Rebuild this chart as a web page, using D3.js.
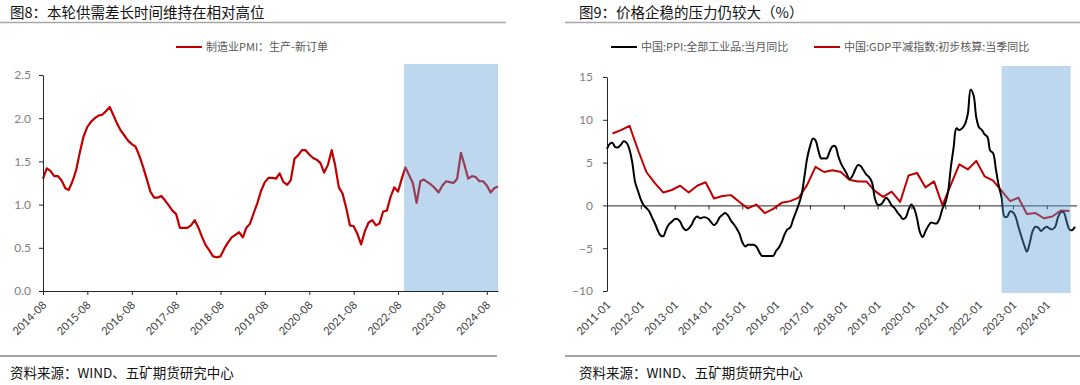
<!DOCTYPE html>
<html>
<head>
<meta charset="utf-8">
<script src="https://cdn.jsdelivr.net/npm/d3@7"></script>
<style>
  body { margin: 0; background: #fff; }
  svg text { font-family: "Noto Sans CJK SC", "Noto Sans", sans-serif; }
  .tick text { font-family: Lato, "Open Sans", sans-serif; }
</style>
</head>
<body>
<div id="chart"></div>
<script>
// ---- fig 8: PMI production minus new orders (monthly) ----
var pmiStart = "2014-08";
var pmiGap = [
  1.30, 1.42, 1.39, 1.33, 1.33, 1.28, 1.19, 1.17, 1.27, 1.40, 1.61, 1.79,
  1.90, 1.96, 2.00, 2.03, 2.04, 2.08, 2.13, 2.04, 1.94, 1.86, 1.80, 1.74,
  1.70, 1.67, 1.57, 1.44, 1.30, 1.15, 1.08, 1.08, 1.10, 1.05, 0.99, 0.93,
  0.89, 0.73, 0.73, 0.73, 0.76, 0.82, 0.73, 0.63, 0.53, 0.47, 0.40, 0.39,
  0.40, 0.49, 0.56, 0.62, 0.65, 0.68, 0.62, 0.73, 0.78, 0.90, 1.02, 1.16,
  1.26, 1.31, 1.31, 1.30, 1.36, 1.26, 1.23, 1.28, 1.53, 1.57, 1.63, 1.63,
  1.58, 1.54, 1.52, 1.48, 1.37, 1.46, 1.63, 1.46, 1.20, 1.13, 0.96, 0.76,
  0.75, 0.66, 0.54, 0.69, 0.79, 0.82, 0.76, 0.78, 0.92, 0.93, 1.09, 1.20,
  1.15, 1.30, 1.43, 1.34, 1.25, 1.02, 1.27, 1.29, 1.26, 1.23, 1.19, 1.14,
  1.22, 1.27, 1.26, 1.25, 1.30, 1.60, 1.45, 1.30, 1.33, 1.32, 1.27, 1.27,
  1.22, 1.14, 1.19, 1.21
];
var pmiYTicks = [0, 0.5, 1.0, 1.5, 2.0, 2.5];
var pmiXTicks = ["2014-08", "2015-08", "2016-08", "2017-08", "2018-08", "2019-08",
                 "2020-08", "2021-08", "2022-08", "2023-08", "2024-08"];
var pmiShade = ["2022-09-20", "2024-11-01"];

// ---- fig 9: PPI (monthly) and GDP deflator (quarterly) ----
var ppiStart = "2011-01";
var ppi = [
  6.6, 7.2, 7.3, 6.8, 6.8, 7.1, 7.5, 7.3, 6.5, 5.0, 2.7, 1.7,
  0.7, 0.0, -0.3, -0.7, -1.4, -2.1, -2.9, -3.5, -3.6, -2.8, -2.2, -1.9,
  -1.6, -1.6, -1.9, -2.6, -2.9, -2.7, -2.3, -1.6, -1.3, -1.5, -1.4, -1.4,
  -1.6, -2.0, -2.3, -2.0, -1.4, -1.1, -0.9, -1.2, -1.8, -2.2, -2.7, -3.3,
  -4.3, -4.8, -4.6, -4.6, -4.6, -4.8, -5.4, -5.9, -5.9, -5.9, -5.9, -5.9,
  -5.3, -4.9, -4.3, -3.4, -2.8, -2.6, -1.7, -0.8, 0.1, 1.2, 3.3, 5.5,
  6.9, 7.8, 7.6, 6.4, 5.5, 5.5, 5.5, 6.3, 6.9, 6.9, 5.8, 4.9,
  4.3, 3.7, 3.1, 3.4, 4.1, 4.7, 4.6, 4.1, 3.6, 3.3, 2.7, 0.9,
  0.1, 0.1, 0.4, 0.9, 0.6, 0.0, -0.3, -0.8, -1.2, -1.6, -1.4, -0.5,
  0.1, -0.4, -1.5, -3.1, -3.7, -3.0, -2.4, -2.0, -2.1, -2.1, -1.5, -0.4,
  0.3, 1.7, 4.4, 6.8, 9.0, 8.8, 9.0, 9.5, 10.7, 13.5, 12.9, 10.3,
  9.1, 8.8, 8.3, 8.0, 6.4, 6.1, 4.2, 2.3, 0.9, -1.3, -1.3, -0.7,
  -0.8, -1.4, -2.5, -3.6, -4.6, -5.4, -4.4, -3.0, -2.5, -2.6, -3.0, -2.7,
  -2.5, -2.7, -2.8, -2.5, -1.4, -0.8, -0.8, -1.8, -2.8, -2.9, -2.5
];
var gdpStart = "2011-03";
var gdpDeflator = [
  8.4, 8.8, 9.3, 6.5,
  3.9, 2.6, 1.5, 1.8,
  2.3, 1.5, 2.3, 2.7,
  0.8, 1.1, 1.2, 0.4,
  -0.35, 0.1, -0.9, -0.4,
  0.3, 0.5, 0.9, 2.4,
  4.5, 3.9, 4.1, 3.9,
  3.0, 2.8, 2.8, 1.7,
  1.0, 1.6, 0.4, 3.5,
  3.8, 2.1, 2.8, 0.0,
  2.4, 4.8, 4.2, 5.2,
  3.4, 2.9, 1.7, 0.5,
  0.9, -1.0, -0.9, -1.5,
  -1.3, -0.6, -0.65
];
var priceYTicks = [-10, -5, 0, 5, 10, 15];
var priceXTicks = ["2011-01", "2012-01", "2013-01", "2014-01", "2015-01", "2016-01", "2017-01",
                   "2018-01", "2019-01", "2020-01", "2021-01", "2022-01", "2023-01", "2024-01"];
var priceShade = ["2022-09-01", "2024-09-15"];

var parseMonth = d3.timeParse("%Y-%m"),
    parseDay = d3.timeParse("%Y-%m-%d");

var pmiMonths = pmiGap.map(function(d, i) { return d3.timeMonth.offset(parseMonth(pmiStart), i); });
var ppiMonths = ppi.map(function(d, i) { return d3.timeMonth.offset(parseMonth(ppiStart), i); });
var gdpMonths = gdpDeflator.map(function(d, i) { return d3.timeMonth.offset(parseMonth(gdpStart), i * 3); });

var svg = d3.select("#chart")
  .append("svg")
    .attr("width", 1080)
    .attr("height", 385)
    .style("background", "#fff");

function header(x0, x1, tx, title) {
  svg.append("text")
      .attr("x", tx)
      .attr("y", 18)
      .style("font-size", "14.5px")
      .style("fill", "#111")
      .text(title);
  svg.append("line")
      .attr("x1", x0).attr("x2", x1)
      .attr("y1", 22.5).attr("y2", 22.5)
      .attr("stroke", "#a6a6a6")
      .attr("stroke-width", 1.5);
}

function footer(x0, x1, tx) {
  svg.append("line")
      .attr("x1", x0).attr("x2", x1)
      .attr("y1", 356).attr("y2", 356)
      .attr("stroke", "#a6a6a6")
      .attr("stroke-width", 2);
  svg.append("text")
      .attr("x", tx)
      .attr("y", 378)
      .style("font-size", "13.5px")
      .style("fill", "#111")
      .text("资料来源：WIND、五矿期货研究中心");
}

function legendItem(x, y, color, label) {
  svg.append("line")
      .attr("x1", x).attr("x2", x + 26)
      .attr("y1", y).attr("y2", y)
      .attr("stroke", color)
      .attr("stroke-width", 2);
  svg.append("text")
      .attr("x", x + 30)
      .attr("y", y + 4)
      .style("font-size", "11px")
      .style("fill", "#595959")
      .text(label);
}

function styleAxis(g) {
  g.selectAll(".domain, .tick line").attr("stroke", "#262626");
  g.selectAll(".tick text").style("font-size", "12px").style("fill", "#7f7f7f");
}

function rotateLabels(g, dx, dy) {
  g.selectAll(".tick text")
      .attr("x", 0).attr("y", 0)
      .attr("dy", "0.35em")
      .attr("transform", "translate(" + dx + "," + dy + ") rotate(-45)")
      .style("text-anchor", "end")
      .style("font-size", "11px")
      .style("fill", "#404040");
}

// ================= left panel =================
header(0, 506, 10, "图8：本轮供需差长时间维持在相对高位");
legendItem(176, 47, "#c00000", "制造业PMI：生产-新订单");

var x1 = d3.scaleTime()
    .domain([pmiMonths[0], pmiMonths[pmiMonths.length - 1]])
    .range([43, 498]);
var y1 = d3.scaleLinear().domain([0, 2.5]).range([291, 75]);

svg.append("path")
    .datum(pmiGap)
    .attr("fill", "none")
    .attr("stroke", "#c00000")
    .attr("stroke-width", 2.2)
    .attr("stroke-linejoin", "round")
    .attr("d", d3.line()
        .x(function(d, i) { return x1(pmiMonths[i]); })
        .y(function(d) { return y1(d); }));

// shaded window sits on top of the line (Excel style overlay)
svg.append("rect")
    .attr("x", x1(parseDay(pmiShade[0])))
    .attr("width", x1(parseDay(pmiShade[1])) - x1(parseDay(pmiShade[0])))
    .attr("y", y1(2.5) - 11)
    .attr("height", y1(0) - y1(2.5) + 11)
    .attr("fill", "#5b9bd5")
    .attr("fill-opacity", 0.4);

var yAxis1 = svg.append("g")
    .attr("transform", "translate(43,0)")
    .call(d3.axisLeft(y1).tickValues(pmiYTicks).tickFormat(d3.format(".1f"))
        .tickSize(4).tickSizeOuter(0).tickPadding(8));
styleAxis(yAxis1);

var xAxis1 = svg.append("g")
    .attr("transform", "translate(0,291)")
    .call(d3.axisBottom(x1).tickValues(pmiXTicks.map(parseMonth)).tickFormat(d3.timeFormat("%Y-%m"))
        .tickSize(4).tickSizeOuter(0));
styleAxis(xAxis1);
rotateLabels(xAxis1, 1, 12);

footer(0, 497, 10);

// ================= right panel =================
header(565, 1080, 579, "图9：价格企稳的压力仍较大（%）");
legendItem(611, 47, "#000", "中国:PPI:全部工业品:当月同比");
legendItem(814, 47, "#c00000", "中国:GDP平减指数:初步核算:当季同比");

var x2 = d3.scaleTime()
    .domain([ppiMonths[0], ppiMonths[ppiMonths.length - 1]])
    .range([607, 1075]);
var y2 = d3.scaleLinear().domain([-10, 15]).range([291, 77]);

var yAxis2 = svg.append("g")
    .attr("transform", "translate(607,0)")
    .call(d3.axisLeft(y2).tickValues(priceYTicks).tickFormat(d3.format("d"))
        .tickSize(4).tickSizeOuter(0).tickPadding(10));
styleAxis(yAxis2);

// zero line with yearly ticks
var zeroAxis = svg.append("g")
    .attr("transform", "translate(0," + y2(0) + ")")
    .call(d3.axisBottom(x2).tickValues(priceXTicks.map(parseMonth)).tickFormat("")
        .tickSize(4).tickSizeOuter(0));
styleAxis(zeroAxis);
zeroAxis.select(".domain").attr("d", "M607,0.5H1077");

// labels along the bottom
var xAxis2 = svg.append("g")
    .attr("transform", "translate(0,291)")
    .call(d3.axisBottom(x2).tickValues(priceXTicks.map(parseMonth)).tickFormat(d3.timeFormat("%Y-%m"))
        .tickSize(0));
xAxis2.select(".domain").remove();
rotateLabels(xAxis2, 1, 12);

svg.append("path")
    .datum(gdpDeflator)
    .attr("fill", "none")
    .attr("stroke", "#c00000")
    .attr("stroke-width", 2)
    .attr("stroke-linejoin", "round")
    .attr("d", d3.line()
        .x(function(d, i) { return x2(gdpMonths[i]); })
        .y(function(d) { return y2(d); }));

svg.append("path")
    .datum(ppi)
    .attr("fill", "none")
    .attr("stroke", "#000")
    .attr("stroke-width", 2)
    .attr("d", d3.line()
        .curve(d3.curveCatmullRom)
        .x(function(d, i) { return x2(ppiMonths[i]); })
        .y(function(d) { return y2(d); }));

svg.append("rect")
    .attr("x", x2(parseDay(priceShade[0])))
    .attr("width", x2(parseDay(priceShade[1])) - x2(parseDay(priceShade[0])))
    .attr("y", y2(15) - 11)
    .attr("height", y2(-10) - y2(15) + 13)
    .attr("fill", "#5b9bd5")
    .attr("fill-opacity", 0.4);

footer(565, 1080, 579);
</script>
</body>
</html>
